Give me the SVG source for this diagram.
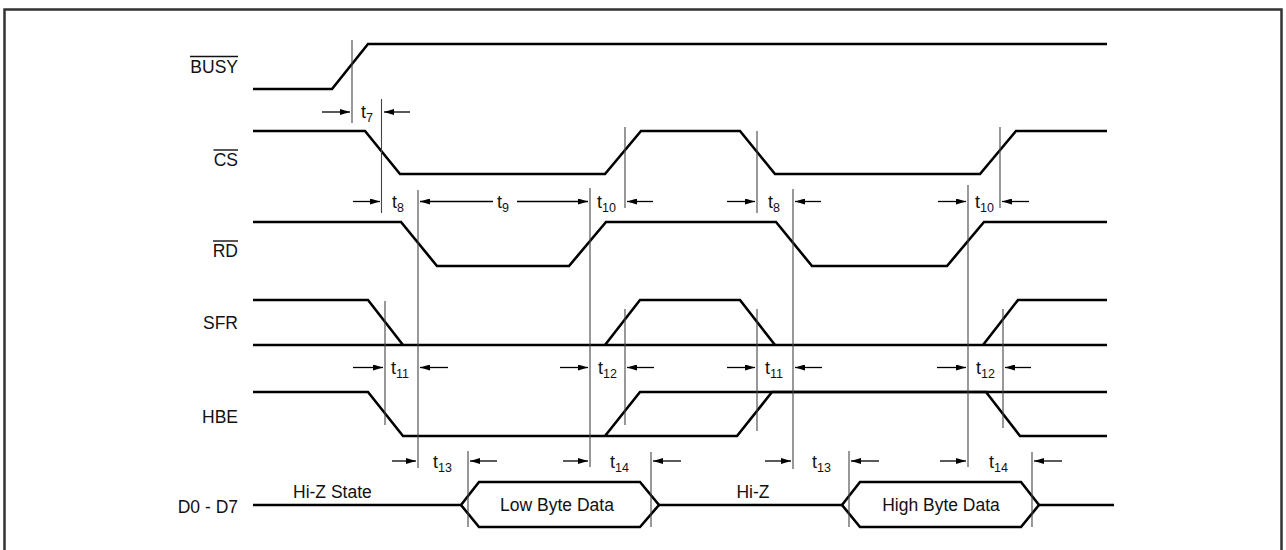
<svg xmlns="http://www.w3.org/2000/svg" width="1286" height="550" viewBox="0 0 1286 550">
<defs>
<marker id="ah" viewBox="0 0 10 6" refX="10" refY="3" markerWidth="10" markerHeight="6" markerUnits="userSpaceOnUse" orient="auto">
<path d="M0,0 L10,3 L0,6 Z" fill="#000"/>
</marker>
</defs>
<style>
.sig{fill:none;stroke:#000;stroke-width:2.6;stroke-linejoin:miter}
.mk{stroke:#444;stroke-width:1.1}
.ar{stroke:#000;stroke-width:1.3;marker-end:url(#ah)}
.lbl{font-family:"Liberation Sans",Arial,sans-serif;font-size:17.5px;fill:#111}
.ov{stroke:#111;stroke-width:1.4}
.t{font-family:"Liberation Sans",Arial,sans-serif;font-size:18px;fill:#111}
.s{font-size:12.5px}
</style>
<rect x="4.5" y="9.5" width="1277" height="560" fill="#fff" stroke="#333" stroke-width="2.5"/>

<g id="labels">
<text class="lbl" x="238" y="73" text-anchor="end">BUSY</text>
<line class="ov" x1="190" y1="56.5" x2="238" y2="56.5"/>
<text class="lbl" x="238" y="166" text-anchor="end">CS</text>
<line class="ov" x1="213.5" y1="150" x2="238" y2="150"/>
<text class="lbl" x="238" y="257" text-anchor="end">RD</text>
<line class="ov" x1="213" y1="241" x2="238" y2="241"/>
<text class="lbl" x="238" y="328.5" text-anchor="end">SFR</text>
<text class="lbl" x="238" y="422.5" text-anchor="end">HBE</text>
<text class="lbl" x="238" y="513" text-anchor="end">D0 - D7</text>
</g>

<g id="busy"><path class="sig" d="M253,89 L332,89 L368,44 L1107,44"/></g>
<g id="cs"><path class="sig" d="M253,131 L365,131 L400,174 L605,174 L641,131 L740,131 L775,174 L980,174 L1016,131 L1107,131"/></g>
<g id="rd"><path class="sig" d="M253,222 L401,222 L437,266 L569,266 L606,222 L776,222 L812,266 L947,266 L984,222 L1107,222"/></g>
<g id="sfr">
<path class="sig" d="M253,345 L1107,345"/>
<path class="sig" d="M253,300 L368,300 L403,345"/>
<path class="sig" d="M605,345 L640,300 L740,300 L775,345"/>
<path class="sig" d="M983,345 L1018,300 L1107,300"/>
</g>
<g id="hbe">
<path class="sig" d="M253,392 L368,392 L403,436 L737,436 L772,392 L1107,392"/>
<path class="sig" d="M605,436 L640,392 L986,392 L1020,436 L1107,436"/>
</g>
<g id="data">
<path class="sig" d="M253,505 L461,505"/>
<path class="sig" d="M461,505 L479,482 L640,482 L659,505 L640,527 L479,527 Z"/>
<path class="sig" d="M659,505 L842,505"/>
<path class="sig" d="M842,505 L860,482 L1021,482 L1039,505 L1021,527 L860,527 Z"/>
<path class="sig" d="M1039,505 L1114,505"/>
<text class="lbl" x="293" y="498">Hi-Z State</text>
<text class="lbl" x="557" y="510.5" text-anchor="middle">Low Byte Data</text>
<text class="lbl" x="753" y="498" text-anchor="middle">Hi-Z</text>
<text class="lbl" x="941" y="510.5" text-anchor="middle">High Byte Data</text>
</g>

<g id="markers">
<line class="mk" x1="352" y1="40" x2="352" y2="123"/>
<line class="mk" x1="381.5" y1="99" x2="381.5" y2="213"/>
<line class="mk" x1="418" y1="190" x2="418" y2="468"/>
<line class="mk" x1="590" y1="188" x2="590" y2="467"/>
<line class="mk" x1="625" y1="127" x2="625" y2="208"/>
<line class="mk" x1="625" y1="309" x2="625" y2="425"/>
<line class="mk" x1="757" y1="131" x2="757" y2="213"/>
<line class="mk" x1="757" y1="309" x2="757" y2="431"/>
<line class="mk" x1="793" y1="189" x2="793" y2="469"/>
<line class="mk" x1="968" y1="185" x2="968" y2="467"/>
<line class="mk" x1="1000" y1="127" x2="1000" y2="208"/>
<line class="mk" x1="1003" y1="309" x2="1003" y2="428"/>
<line class="mk" x1="385" y1="301" x2="385" y2="425"/>
<line class="mk" x1="468" y1="451" x2="468" y2="527"/>
<line class="mk" x1="651" y1="452" x2="651" y2="527"/>
<line class="mk" x1="849" y1="451" x2="849" y2="527"/>
<line class="mk" x1="1032" y1="452" x2="1032" y2="527"/>
</g>

<g id="connectors">
<line class="ar" x1="322" y1="112" x2="350" y2="112"/>
<line class="ar" x1="410" y1="112" x2="384" y2="112"/>

<line class="ar" x1="353" y1="201.5" x2="380" y2="201.5"/>
<line class="ar" x1="493" y1="201.5" x2="420" y2="201.5"/>
<line class="ar" x1="517" y1="201.5" x2="588" y2="201.5"/>
<line class="ar" x1="653" y1="201.5" x2="627" y2="201.5"/>
<line class="ar" x1="727" y1="201.5" x2="755" y2="201.5"/>
<line class="ar" x1="821" y1="201.5" x2="795" y2="201.5"/>
<line class="ar" x1="938" y1="201.5" x2="966" y2="201.5"/>
<line class="ar" x1="1029" y1="201.5" x2="1002" y2="201.5"/>

<line class="ar" x1="353" y1="367.5" x2="383" y2="367.5"/>
<line class="ar" x1="448" y1="367.5" x2="420" y2="367.5"/>
<line class="ar" x1="560" y1="367.5" x2="588" y2="367.5"/>
<line class="ar" x1="654" y1="367.5" x2="627" y2="367.5"/>
<line class="ar" x1="727" y1="367.5" x2="755" y2="367.5"/>
<line class="ar" x1="822" y1="367.5" x2="795" y2="367.5"/>
<line class="ar" x1="937" y1="367.5" x2="966" y2="367.5"/>
<line class="ar" x1="1031" y1="367.5" x2="1005" y2="367.5"/>

<line class="ar" x1="392" y1="461" x2="416" y2="461"/>
<line class="ar" x1="497" y1="461" x2="470" y2="461"/>
<line class="ar" x1="563" y1="461" x2="588" y2="461"/>
<line class="ar" x1="681" y1="461" x2="653" y2="461"/>
<line class="ar" x1="765" y1="461" x2="791" y2="461"/>
<line class="ar" x1="879" y1="461" x2="851" y2="461"/>
<line class="ar" x1="940" y1="461" x2="966" y2="461"/>
<line class="ar" x1="1062" y1="461" x2="1034" y2="461"/>
</g>

<g id="timing-labels">
<text class="t" x="361" y="118">t<tspan class="s" dy="4">7</tspan></text>
<text class="t" x="392" y="208">t<tspan class="s" dy="4">8</tspan></text>
<text class="t" x="497" y="208">t<tspan class="s" dy="4">9</tspan></text>
<text class="t" x="597" y="208">t<tspan class="s" dy="4">10</tspan></text>
<text class="t" x="768" y="208">t<tspan class="s" dy="4">8</tspan></text>
<text class="t" x="975" y="208">t<tspan class="s" dy="4">10</tspan></text>
<text class="t" x="391" y="374">t<tspan class="s" dy="4">11</tspan></text>
<text class="t" x="598" y="374">t<tspan class="s" dy="4">12</tspan></text>
<text class="t" x="765" y="374">t<tspan class="s" dy="4">11</tspan></text>
<text class="t" x="976" y="374">t<tspan class="s" dy="4">12</tspan></text>
<text class="t" x="433" y="467.5">t<tspan class="s" dy="4">13</tspan></text>
<text class="t" x="610" y="467.5">t<tspan class="s" dy="4">14</tspan></text>
<text class="t" x="812" y="467.5">t<tspan class="s" dy="4">13</tspan></text>
<text class="t" x="989" y="467.5">t<tspan class="s" dy="4">14</tspan></text>
</g>
</svg>
